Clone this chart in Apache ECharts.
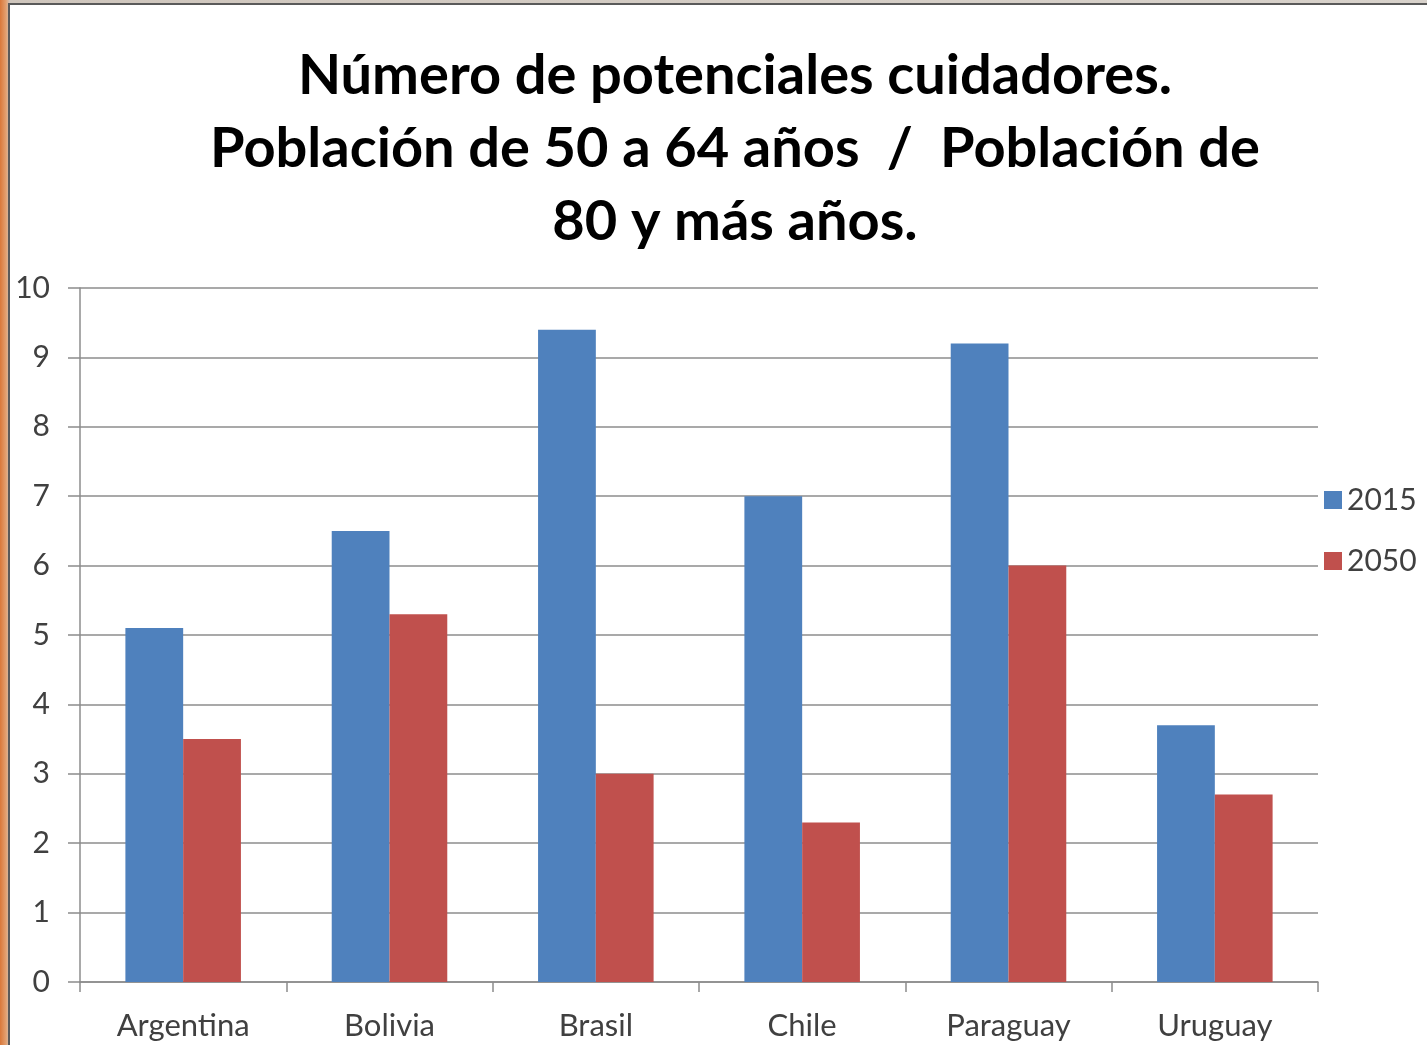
<!DOCTYPE html>
<html>
<head>
<meta charset="utf-8">
<script src="https://cdn.jsdelivr.net/npm/echarts@6/dist/echarts.min.js"></script>
<style>
  html, body { margin: 0; padding: 0; width: 1427px; height: 1045px; overflow: hidden;
    background: linear-gradient(90deg, #d9783a 0px, #e3a070 6px, #cfc6bd 10px, #d8d2cb 100%); }
  #frame { position: absolute; left: 8px; top: 3px; width: 1430px; height: 1050px;
    background: #ffffff; border: 2px solid #5a5a5a; box-sizing: border-box; }
  #chart { position: absolute; left: 0; top: 0; width: 1427px; height: 1045px; }
</style>
</head>
<body>
<div id="frame"></div>
<div id="chart"></div>
<script>
const categories = ['Argentina', 'Bolivia', 'Brasil', 'Chile', 'Paraguay', 'Uruguay'];
const seriesNames = ['2015', '2050'];
const values2015 = [5.1, 6.5, 9.4, 7.0, 9.2, 3.7];
const values2050 = [3.5, 5.3, 3.0, 2.3, 6.0, 2.7];
const yTicks = [0, 1, 2, 3, 4, 5, 6, 7, 8, 9, 10];
const titleLines = ['Número de potenciales cuidadores.', 'Población de 50 a 64 años  /  Población de', '80 y más años.'];

const chart = echarts.init(document.getElementById('chart'), null, { renderer: 'canvas' });
const fontFamily = 'Lato, "Open Sans", sans-serif';
chart.setOption({
  backgroundColor: 'transparent',
  animation: false,
  title: {
    text: titleLines.join('\n'),
    left: 730, top: 34, textAlign: 'center',
    textStyle: { fontFamily: fontFamily, fontWeight: 'bold', fontSize: 56, lineHeight: 73, color: '#000' }
  },
  legend: {
    orient: 'vertical', left: 1319, top: 480,
    itemWidth: 18, itemHeight: 18, itemGap: 31, icon: 'rect',
    textStyle: { fontFamily: fontFamily, fontSize: 30, color: '#404040', padding: [0, 0, 0, 0] },
    data: seriesNames
  },
  grid: { left: 80, right: 109, top: 288, bottom: 63, containLabel: false },
  xAxis: {
    type: 'category', data: categories,
    axisLine: { lineStyle: { color: '#8c8c8c', width: 1.5 } },
    axisTick: { show: true, length: 10, lineStyle: { color: '#8c8c8c', width: 1.5 } },
    axisLabel: { fontFamily: fontFamily, fontSize: 31, color: '#404040', margin: 28 }
  },
  yAxis: {
    type: 'value', min: 0, max: 10, interval: 1,
    axisLine: { show: true, lineStyle: { color: '#8c8c8c', width: 1.5 } },
    axisTick: { show: true, length: 12, lineStyle: { color: '#8c8c8c', width: 1.5 } },
    splitLine: { lineStyle: { color: '#8c8c8c', width: 1.5 } },
    axisLabel: { fontFamily: fontFamily, fontSize: 30, color: '#404040', margin: 30,
      formatter: v => yTicks.includes(v) ? String(v) : '' }
  },
  series: [
    { name: seriesNames[0], type: 'bar', data: values2015, barGap: '0%', barCategoryGap: '44%',
      itemStyle: { color: '#4f81bd' } },
    { name: seriesNames[1], type: 'bar', data: values2050, barGap: '0%', barCategoryGap: '44%',
      itemStyle: { color: '#c0504d' } }
  ]
});
</script>
</body>
</html>
